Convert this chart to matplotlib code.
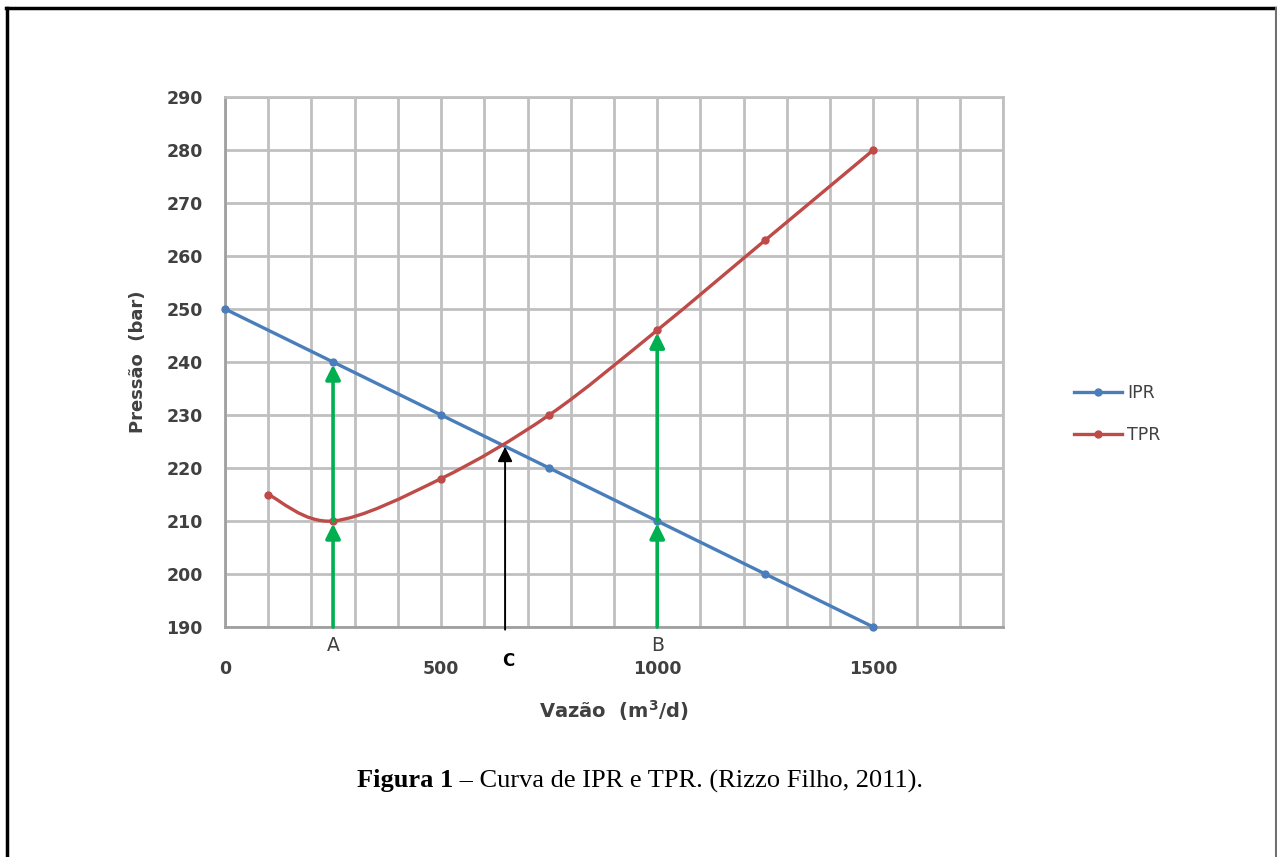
import matplotlib.pyplot as plt
from matplotlib.path import Path
from matplotlib.patches import PathPatch
from matplotlib.lines import Line2D
import numpy as np

# data
ipr_q = [0, 250, 500, 750, 1000, 1250, 1500]
ipr_p = [250, 240, 230, 220, 210, 200, 190]
tpr_q = [100, 250, 500, 750, 1000, 1250, 1500]
tpr_p = [215, 210, 218, 230, 246, 263, 280]

# vertical arrows: (x, y start, y end, colour)
arrow_x = [250, 250, 1000, 1000, 648]
arrow_y0 = [190, 210, 190, 210, 189.5]
arrow_y1 = [209.5, 239.5, 209.5, 245.5, 224]
arrow_col = ['#00b050', '#00b050', '#00b050', '#00b050', 'black']

mark_labels = ['A', 'B', 'C']
mark_x = [250, 1000, 655]
mark_y = [186.5, 186.5, 183.5]

blue = '#4a7ebb'
red = '#be4b48'
gray_txt = '#404040'
grid_col = '#c0c0c0'
font = 'DejaVu Sans'


def smooth_path(xs, ys):
    # Excel-style smoothed line: cubic bezier through every point
    pts = np.column_stack([xs, ys]).astype(float)
    n = len(pts)
    verts = [pts[0]]
    codes = [Path.MOVETO]
    for i in range(n - 1):
        p0 = pts[i - 1] if i > 0 else pts[i]
        p1 = pts[i]
        p2 = pts[i + 1]
        p3 = pts[i + 2] if i + 2 < n else pts[i + 1]
        c1 = p1 + (p2 - p0) / 6.0
        c2 = p2 - (p3 - p1) / 6.0
        verts += [c1, c2, p2]
        codes += [Path.CURVE4] * 3
    return Path(verts, codes)


fig = plt.figure(figsize=(12.77, 8.57), dpi=100)
ax = fig.add_axes([225 / 1277, 1 - 627 / 857, 778 / 1277, 530 / 857])

ax.set_xlim(0, 1800)
ax.set_ylim(190, 290)
ax.set_xticks([0, 500, 1000, 1500])
ax.set_xticks(np.arange(0, 1801, 100), minor=True)
ax.set_yticks(np.arange(190, 291, 10))
ax.grid(True, which='both', color=grid_col, lw=2)
ax.set_axisbelow(True)
for s in ax.spines.values():
    s.set_color(grid_col)
    s.set_linewidth(2)
ax.spines['left'].set_color('#a0a0a0')
ax.spines['bottom'].set_color('#a0a0a0')
ax.tick_params(which='both', length=0)
ax.tick_params(axis='y', pad=16, labelsize=12.5, labelcolor=gray_txt)
ax.tick_params(axis='x', pad=24, labelsize=12.5, labelcolor=gray_txt)
for lab in ax.get_xticklabels() + ax.get_yticklabels():
    lab.set_fontweight('bold')
    lab.set_family(font)

ax.set_xlabel('Vazão  (m$^\\mathbf{3}$/d)', fontsize=14, fontweight='bold', color=gray_txt,
              family=font, labelpad=14)
ax.set_ylabel('Pressão  (bar)', fontsize=13, fontweight='bold', color=gray_txt,
              family=font, labelpad=14)

# IPR straight line
ax.plot(ipr_q, ipr_p, color=blue, lw=2.4, marker='o', ms=5, clip_on=False, zorder=3)

# TPR smoothed line
ax.add_patch(PathPatch(smooth_path(tpr_q, tpr_p), facecolor='none', edgecolor=red,
                       lw=2.4, zorder=3))
ax.plot(tpr_q, tpr_p, ls='none', color=red, marker='o', ms=5, zorder=3)

for x, y0, y1, c in zip(arrow_x, arrow_y0, arrow_y1, arrow_col):
    lw = 2.6 if c != 'black' else 1.4
    ax.annotate('', xy=(x, y1), xytext=(x, y0), annotation_clip=False,
                arrowprops=dict(arrowstyle='-|>', color=c, lw=lw, mutation_scale=22,
                                shrinkA=0, shrinkB=0), zorder=4)

for lab, x, y in zip(mark_labels, mark_x, mark_y):
    if lab == 'C':
        ax.text(x, y, lab, ha='center', va='center', fontsize=12, fontweight='bold',
                color='black', family=font, clip_on=False)
    else:
        ax.text(x, y, lab, ha='center', va='center', fontsize=13.5,
                color=gray_txt, family=font, clip_on=False)

handles = [Line2D([], [], color=blue, lw=2.4, marker='o', ms=5, label='IPR'),
           Line2D([], [], color=red, lw=2.4, marker='o', ms=5, label='TPR')]
leg = fig.legend(handles=handles, loc='center left', bbox_to_anchor=(1058 / 1277, 1 - 414 / 857),
                 frameon=False, handlelength=2.8, handletextpad=0.3, labelspacing=1.4,
                 prop={'family': font, 'size': 12.5})
for t in leg.get_texts():
    t.set_color(gray_txt)

# caption
cap_y = 1 - 781 / 857
t1 = fig.text(357 / 1277, cap_y, 'Figura 1', fontsize=19, fontweight='bold',
              family='Liberation Serif', va='center', ha='left')
fig.canvas.draw()
bb = t1.get_window_extent()
fig.text(bb.x1 / 1277, cap_y, ' – Curva de IPR e TPR. (Rizzo Filho, 2011).', fontsize=19,
         family='Liberation Serif', va='center', ha='left')

# outer frame (no bottom edge)
fig.add_artist(Line2D([7 / 1277, 7 / 1277], [0, 1 - 8 / 857], color='black', lw=2.5))
fig.add_artist(Line2D([6 / 1277, 1276 / 1277], [1 - 8 / 857, 1 - 8 / 857], color='black', lw=2.5))
fig.add_artist(Line2D([1276 / 1277, 1276 / 1277], [0, 1 - 8 / 857], color='#707070', lw=1.5))

fig.savefig('out.png', dpi=100)
